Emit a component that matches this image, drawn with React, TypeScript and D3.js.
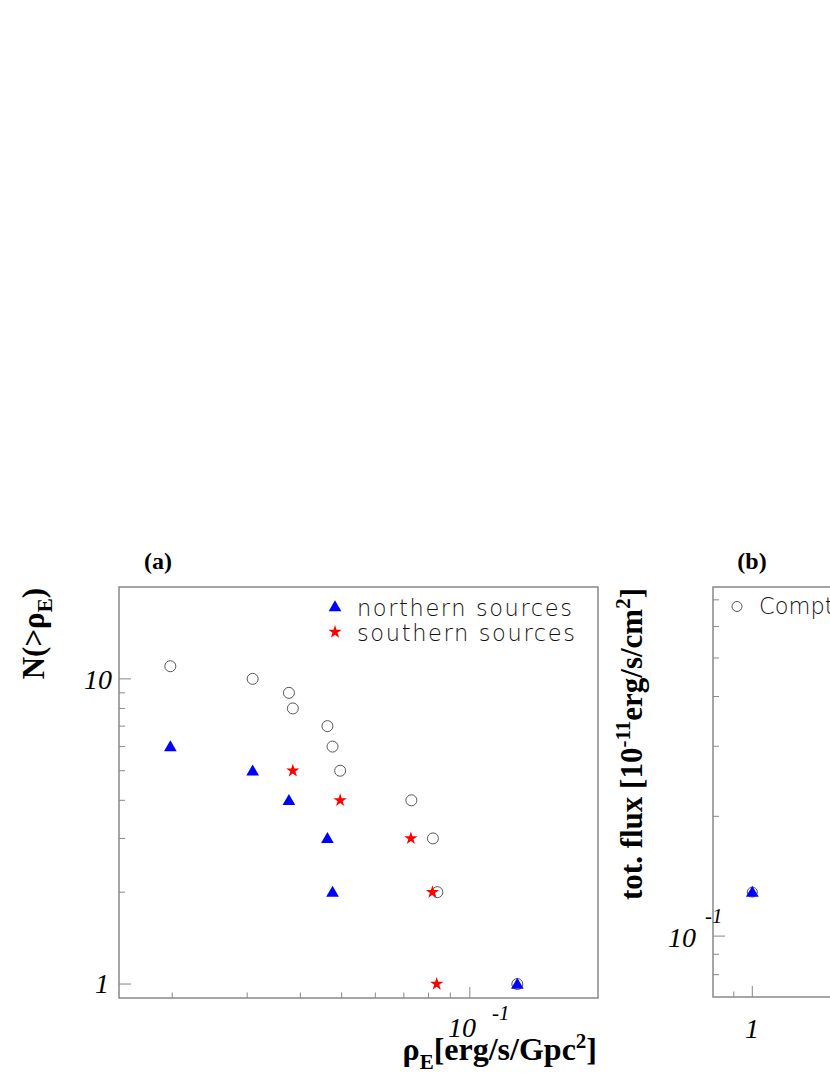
import React from 'react';
import * as d3 from 'd3';

// panel (a): cumulative counts N(>rho_E) vs rho_E
const allRho = [0.0198, 0.0309, 0.0376, 0.0384, 0.0463, 0.0476, 0.0496, 0.0729, 0.0819, 0.0839, 0.1293];
const allN = [11, 10, 9, 8, 7, 6, 5, 4, 3, 2, 1];
const northRho = [0.0198, 0.0309, 0.0376, 0.0463, 0.0476, 0.1293];
const northN = [6, 5, 4, 3, 2, 1];
const southRho = [0.0384, 0.0496, 0.0727, 0.0817, 0.0836];
const southN = [5, 4, 3, 2, 1];

// panel (b): total flux (only the visible part)
const fluxX = [1];
const fluxAll = [0.129];
const fluxNorth = [0.129];

const xTicksA = [0.02, 0.03, 0.04, 0.05, 0.06, 0.07, 0.08, 0.09];
const xMajorA = [0.1];
const yTicksA = [2, 3, 4, 5, 6, 7, 8, 9];
const yMajorA = [1, 10];
const yTicksB = [0.08, 0.09, 0.2, 0.3, 0.4, 0.5, 0.6, 0.7];
const yMajorB = [0.1];
const xTicksB = [0.9, 2, 3, 4, 5, 6, 7, 8, 9];
const xMajorB = [1, 10];

const serif = '"Liberation Serif", "Times New Roman", serif';
const sans = '"DejaVu Sans", sans-serif';
const frameColor = '#888';

const tri = d3.symbol().type(d3.symbolTriangle).size(70)();
const star = d3.symbol().type(d3.symbolStar).size(55)();

const Circle = ({ x, y, r = 5.5 }) => (
  <circle cx={x} cy={y} r={r} fill="none" stroke="#555" strokeWidth={1} />
);
const Tri = ({ x, y }) => <path d={tri} transform={`translate(${x},${y + 1})`} fill="#0000ff" />;
const Star = ({ x, y }) => <path d={star} transform={`translate(${x},${y})`} fill="#ff0000" />;

const App = () => {
  // panel (a) scales
  const xA = d3.scaleLog().domain([0.015, 0.2]).range([119, 598]);
  const yA = d3.scaleLog().domain([0.9, 20]).range([998, 587]);
  // panel (b) scales
  const xB = d3.scaleLog().domain([0.8, 12.2]).range([713, 1193]);
  const yB = d3.scaleLog().domain([0.0703, 0.754]).range([997, 587]);

  return (
    <div style={{ position: 'absolute', left: 0, top: 0 }}>
      <svg width={830} height={1075} style={{ display: 'block', background: '#fff' }}>
        {/* ---------- panel (a) ---------- */}
        <text x={158} y={569} textAnchor="middle" fontFamily={serif} fontWeight="bold" fontSize={24}>(a)</text>
        <rect x={119} y={587} width={479} height={411} fill="none" stroke={frameColor} strokeWidth={1.5} />
        {yTicksA.map((t) => (
          <line key={'ya' + t} x1={119} x2={125} y1={yA(t)} y2={yA(t)} stroke={frameColor} />
        ))}
        {yMajorA.map((t) => (
          <line key={'yA' + t} x1={119} x2={131} y1={yA(t)} y2={yA(t)} stroke={frameColor} />
        ))}
        {xTicksA.map((t) => (
          <line key={'xa' + t} x1={xA(t)} x2={xA(t)} y1={998} y2={992.5} stroke={frameColor} />
        ))}
        {xMajorA.map((t) => (
          <line key={'xA' + t} x1={xA(t)} x2={xA(t)} y1={998} y2={987} stroke={frameColor} />
        ))}
        <text x={112} y={689} textAnchor="end" fontFamily={serif} fontStyle="italic" fontSize={28}>10</text>
        <text x={109} y={993} textAnchor="end" fontFamily={serif} fontStyle="italic" fontSize={28}>1</text>
        <text x={462} y={1037} textAnchor="middle" fontFamily={serif} fontStyle="italic" fontSize={28}>10</text>
        <text x={492} y={1020} fontFamily={serif} fontStyle="italic" fontSize={21}>-1</text>

        {/* x title */}
        <text x={597} y={1060} textAnchor="end" fontFamily={serif} fontWeight="bold" fontSize={32}>
          ρ<tspan dy={9} fontSize={21}>E</tspan>
          <tspan dy={-9}>[erg/s/Gpc</tspan>
          <tspan dy={-12} fontSize={21}>2</tspan>
          <tspan dy={12}>]</tspan>
        </text>
        {/* y title */}
        <text transform="translate(44,588) rotate(-90)" textAnchor="end" fontFamily={serif} fontWeight="bold" fontSize={31}>
          N(&gt;ρ<tspan dy={8} fontSize={21}>E</tspan>
          <tspan dy={-8}>)</tspan>
        </text>

        {allRho.map((v, i) => <Circle key={'c' + i} x={xA(v)} y={yA(allN[i])} />)}
        {northRho.map((v, i) => <Tri key={'t' + i} x={xA(v)} y={yA(northN[i])} />)}
        {southRho.map((v, i) => <Star key={'s' + i} x={xA(v)} y={yA(southN[i])} />)}

        {/* legend (a) */}
        <Tri x={335} y={606.5} />
        <Star x={335} y={632} />
        <text x={357} y={616} fontFamily={sans} fontWeight={200} fontSize={22.5} fill="#111" textLength={215}>northern sources</text>
        <text x={357} y={641} fontFamily={sans} fontWeight={200} fontSize={22.5} fill="#111" textLength={218}>southern sources</text>

        {/* ---------- panel (b) ---------- */}
        <text x={752} y={569} textAnchor="middle" fontFamily={serif} fontWeight="bold" fontSize={24}>(b)</text>
        <rect x={713} y={587} width={480} height={410} fill="none" stroke={frameColor} strokeWidth={1.5} />
        {yTicksB.map((t) => (
          <line key={'yb' + t} x1={713} x2={719} y1={yB(t)} y2={yB(t)} stroke={frameColor} />
        ))}
        {yMajorB.map((t) => (
          <line key={'yB' + t} x1={713} x2={725} y1={yB(t)} y2={yB(t)} stroke={frameColor} />
        ))}
        {xTicksB.map((t) => (
          <line key={'xb' + t} x1={xB(t)} x2={xB(t)} y1={997} y2={991.5} stroke={frameColor} />
        ))}
        {xMajorB.map((t) => (
          <line key={'xB' + t} x1={xB(t)} x2={xB(t)} y1={997} y2={986} stroke={frameColor} />
        ))}
        <text x={696} y={947} textAnchor="end" fontFamily={serif} fontStyle="italic" fontSize={28}>10</text>
        <text x={705} y={923} fontFamily={serif} fontStyle="italic" fontSize={21}>-1</text>
        <text x={752} y={1038} textAnchor="middle" fontFamily={serif} fontStyle="italic" fontSize={28}>1</text>

        <text transform="translate(642,588) rotate(-90)" textAnchor="end" fontFamily={serif} fontWeight="bold" fontSize={31}>
          tot. flux [10<tspan dy={-12} fontSize={21}>-11</tspan>
          <tspan dy={12}>erg/s/cm</tspan>
          <tspan dy={-12} fontSize={21}>2</tspan>
          <tspan dy={12}>]</tspan>
        </text>

        {fluxX.map((v, i) => <Circle key={'fc' + i} x={xB(v)} y={yB(fluxAll[i])} r={5} />)}
        {fluxX.map((v, i) => <Tri key={'ft' + i} x={xB(v)} y={yB(fluxNorth[i])} />)}

        <Circle x={737} y={606.5} r={5} />
        <text x={759} y={614} fontFamily={sans} fontWeight={200} fontSize={22.5} fill="#111">Compton-thin</text>
      </svg>
    </div>
  );
};

export default App;
